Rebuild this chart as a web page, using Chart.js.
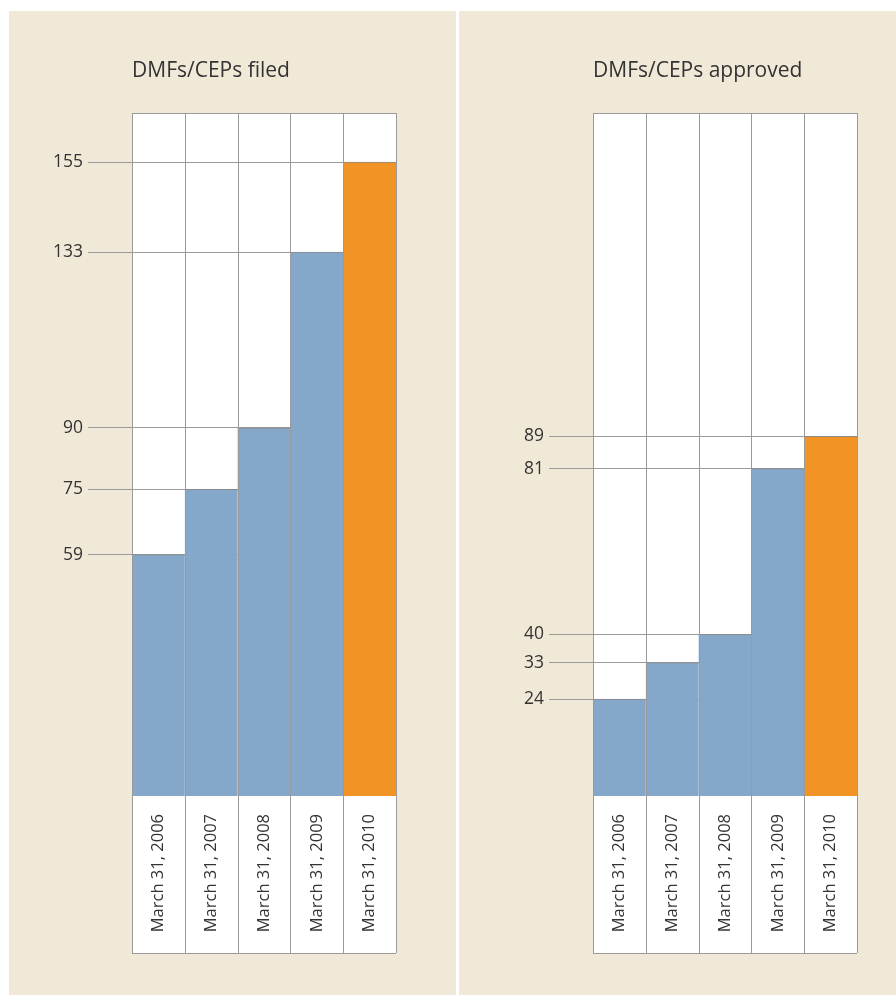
<!DOCTYPE html>
<html>
<head>
<meta charset="utf-8">
<script src="https://cdn.jsdelivr.net/npm/chart.js@4"></script>
<style>
body { margin: 0; background: #fff; width: 896px; height: 996px; position: relative; overflow: hidden; }
.panel { position: absolute; top: 11px; height: 984px; background: #f1e9d8; }
#p1 { left: 9px; width: 447px; }
#p2 { left: 459px; width: 437px; }
canvas { display: block; }
</style>
</head>
<body>
<div class="panel" id="p1"><canvas id="filed" width="447" height="984"></canvas></div>
<div class="panel" id="p2"><canvas id="approved" width="437" height="984"></canvas></div>
<script>
var years = ["March 31, 2006", "March 31, 2007", "March 31, 2008", "March 31, 2009", "March 31, 2010"];
var filed = [59, 75, 90, 133, 155];
var approved = [24, 33, 40, 81, 89];
var filedTicks = [59, 75, 90, 133, 155];
var approvedTicks = [24, 33, 40, 81, 89];
var barColors = ["#85a7c9", "#85a7c9", "#85a7c9", "#85a7c9", "#f19425"];

var LABEL_BOX = 157;

// white plot + label box, column lines and title
var framePlugin = {
    id: "frame",
    beforeDraw: function (chart) {
        var a = chart.chartArea;
        var ctx = chart.ctx;
        ctx.save();
        ctx.fillStyle = "#fff";
        ctx.fillRect(a.left, a.top, a.right - a.left, a.bottom - a.top + LABEL_BOX);
        ctx.restore();
    },
    afterDatasetsDraw: function (chart) {
        var a = chart.chartArea;
        var ctx = chart.ctx;
        var xs = chart.scales.x;
        var n = chart.data.labels.length;
        ctx.save();
        ctx.strokeStyle = "#9a9a9a";
        ctx.lineWidth = 1;
        ctx.beginPath();
        for (var i = 0; i <= n; i++) {
            var x;
            if (i == 0) x = a.left;
            else if (i == n) x = a.right;
            else x = (xs.getPixelForValue(i - 1) + xs.getPixelForValue(i)) / 2;
            x = Math.round(x) + 0.5;
            ctx.moveTo(x, a.top);
            ctx.lineTo(x, a.bottom + LABEL_BOX);
        }
        ctx.moveTo(a.left, Math.round(a.top) + 0.5);
        ctx.lineTo(a.right, Math.round(a.top) + 0.5);
        ctx.moveTo(a.left, Math.round(a.bottom + LABEL_BOX) + 0.5);
        ctx.lineTo(a.right, Math.round(a.bottom + LABEL_BOX) + 0.5);
        ctx.stroke();

        ctx.fillStyle = "#333";
        ctx.font = '21px "Open Sans"';
        ctx.textBaseline = "alphabetic";
        ctx.fillText(chart.options.plugins.frame.title, a.left, 66);
        ctx.restore();
    },
};

function makeChart(id, title, values, ticks, max, yWidth, rightPad) {
    var ctx = document.getElementById(id).getContext("2d");
    return new Chart(ctx, {
        type: "bar",
        plugins: [framePlugin],
        data: {
            labels: years,
            datasets: [
                {
                    data: values,
                    backgroundColor: barColors,
                    borderColor: "#8a8a8a",
                    borderWidth: { top: 1, left: 0, right: 0, bottom: 0 },
                    barPercentage: 1,
                    categoryPercentage: 1,
                },
            ],
        },
        options: {
            responsive: false,
            animation: false,
            layout: { padding: { top: 102, right: rightPad, bottom: 42, left: 0 } },
            plugins: {
                legend: { display: false },
                tooltip: { enabled: false },
                frame: { title: title },
            },
            scales: {
                x: {
                    grid: { display: false },
                    border: { display: false },
                    ticks: {
                        autoSkip: false,
                        minRotation: 90,
                        maxRotation: 90,
                        padding: 10,
                        color: "#333",
                        font: { family: "Open Sans", size: 16.5 },
                    },
                    afterFit: function (s) {
                        s.height = LABEL_BOX;
                    },
                },
                y: {
                    min: 0,
                    max: max,
                    afterBuildTicks: function (s) {
                        s.ticks = ticks.map(function (v) {
                            return { value: v };
                        });
                    },
                    grid: { color: "#9a9a9a", tickLength: 44 },
                    border: { display: false },
                    ticks: {
                        padding: 5,
                        color: "#333",
                        font: { family: "Open Sans", size: 17.5 },
                    },
                    afterFit: function (s) {
                        s.width = yWidth;
                    },
                },
            },
        },
    });
}

makeChart("filed", "DMFs/CEPs filed", filed, filedTicks, 167, 123, 60);
makeChart("approved", "DMFs/CEPs approved", approved, approvedTicks, 169, 134, 39);
</script>
</body>
</html>
